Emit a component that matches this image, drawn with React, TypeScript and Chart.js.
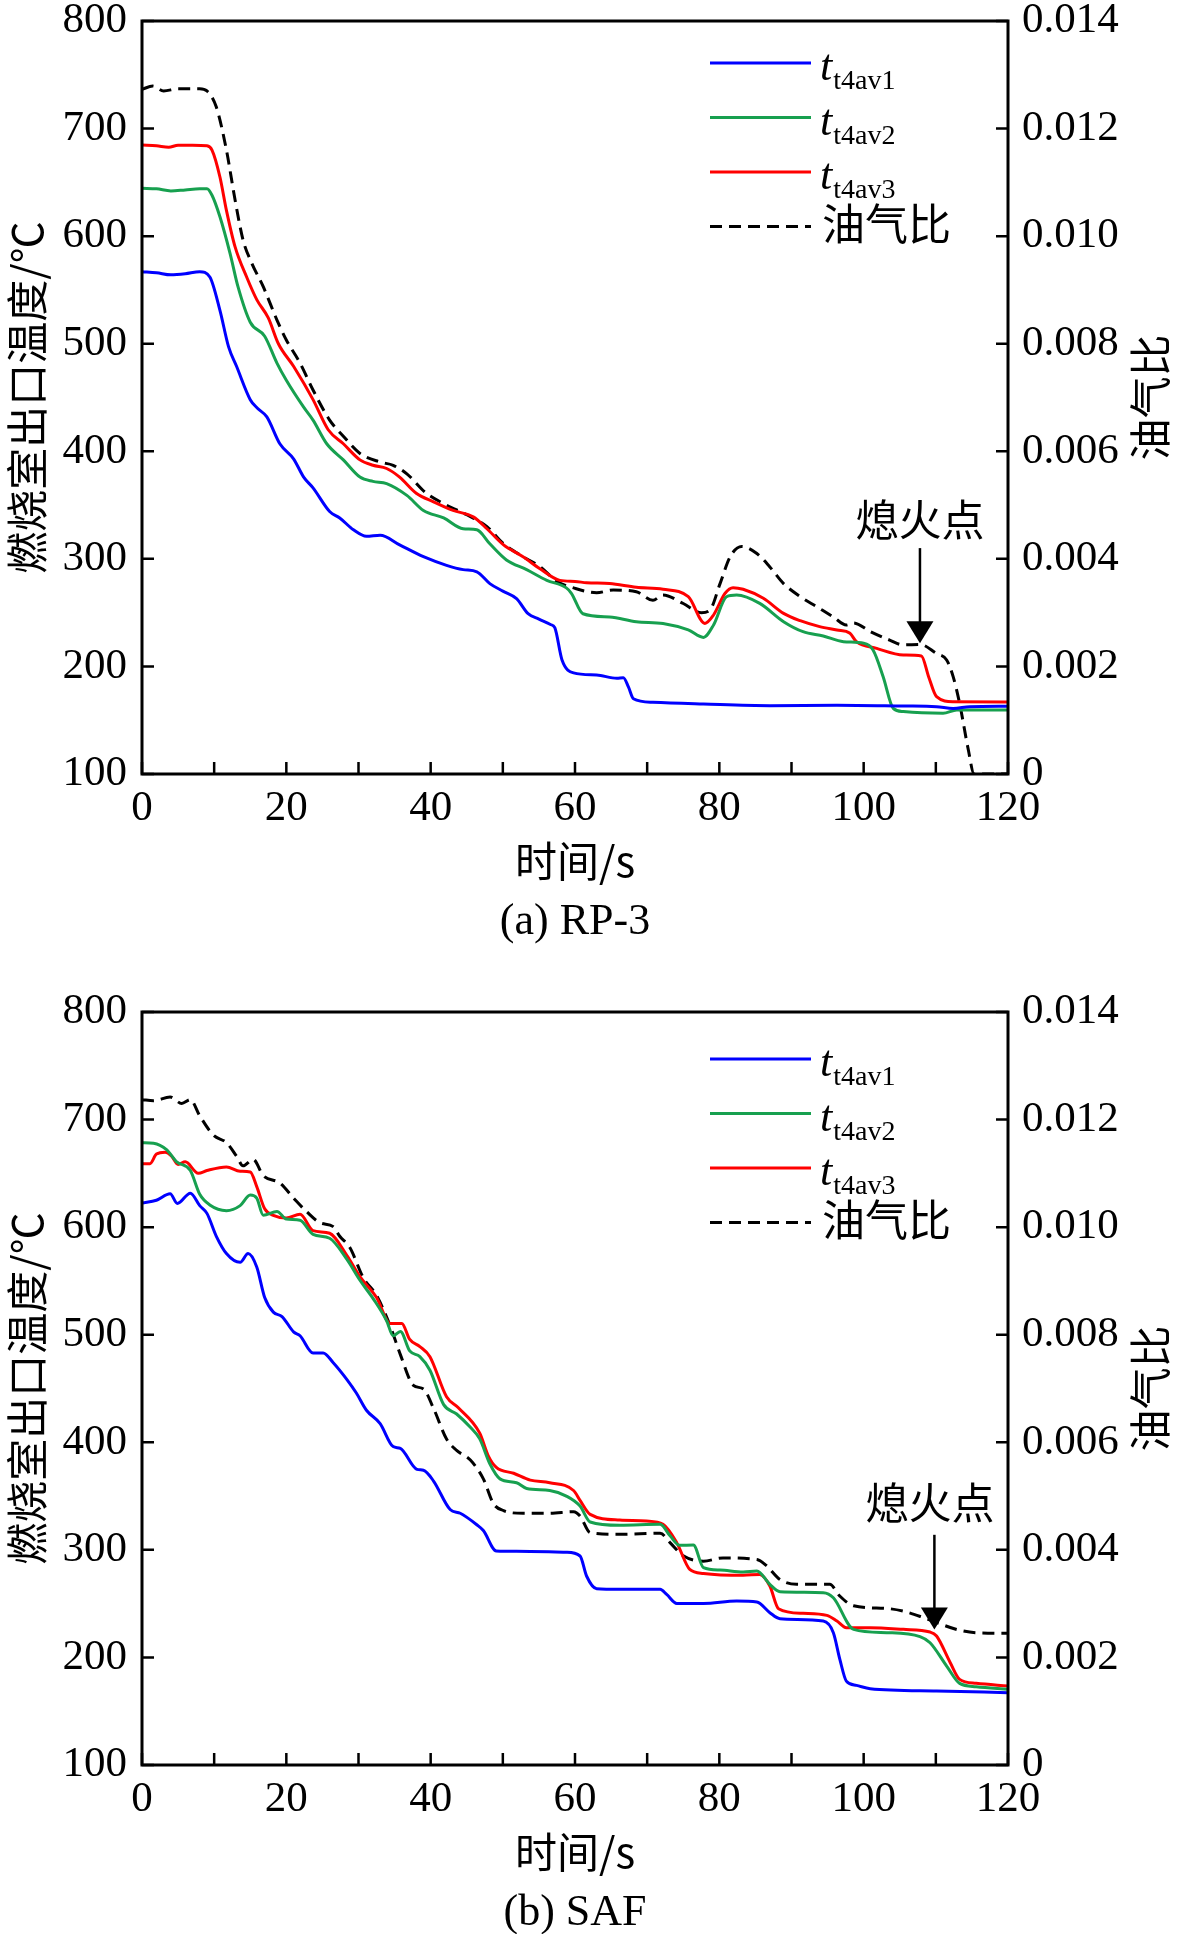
import React, { useEffect, useRef } from "react";
import { Chart, registerables } from "chart.js";
Chart.register(...registerables);

// ---- (a) RP-3 ----
const rp3T1X = [0, 2, 4, 6, 8, 9.4, 10.8, 12, 13.1, 15, 16, 17.3, 19.1, 21, 22.4, 23.7, 26, 27.4, 29.3, 31.1, 33, 35.7, 39, 42.2, 44.5, 46.4, 48.2, 50, 51.9, 53.5, 55, 56.6, 57.2, 58.2, 59.8, 63, 65.8, 66.7, 67.4, 68.1, 70.8, 77.8, 87, 96.3, 105.5, 110.1, 112.4, 114.7, 120];
const rp3T1Y = [567, 566, 564, 565, 567, 562, 531, 497, 479, 448, 440, 432, 407, 393, 376, 366, 344, 338, 327, 321, 322, 313, 302, 294, 290, 288, 277, 270, 263, 249, 244, 239, 236, 206, 194, 192, 189, 189.5, 181, 170, 166.6, 165, 163.5, 164, 163.2, 162.6, 161, 162.6, 163];
const rp3T2X = [0, 2, 4, 6, 8, 9, 9.7, 10.8, 12.2, 13.3, 15, 17, 18.7, 20, 22.4, 23.7, 25.6, 27.9, 30.2, 32, 33.9, 36.7, 39, 41.8, 44.5, 46.4, 48.2, 50.5, 53.3, 56.1, 58.8, 59.5, 61.1, 64.8, 68.5, 72.2, 75.7, 77.8, 79.2, 81, 82.4, 85.6, 88.9, 91.6, 94.4, 97.2, 100, 101.3, 102.7, 104.1, 105.5, 111, 112.9, 120];
const rp3T2Y = [644.5, 644, 642, 643, 644, 644, 638, 618, 584, 553, 520, 507, 482, 466, 441, 429, 407, 392, 376, 372, 370, 359, 345, 338, 328, 327, 314, 299, 290, 280, 273, 268, 249, 246, 241.6, 240, 234, 227, 238.5, 264.8, 266.4, 258.6, 241.6, 232.3, 228.3, 223, 221.5, 215.3, 190.5, 161, 158, 156.4, 159.5, 159.5];
const rp3T3X = [0, 2, 3.7, 5, 7, 9, 9.7, 10.8, 11.7, 12.9, 14.5, 15.9, 17.5, 18.9, 21, 23.7, 25.8, 27.9, 30.2, 32, 33.9, 35.7, 38, 40.4, 43.1, 45.9, 47.8, 50.1, 52.8, 55.1, 57.9, 60, 61.6, 64.8, 68.5, 72.2, 75.7, 78, 79.2, 80.8, 81.9, 83.3, 86.1, 88.9, 91.2, 93.9, 96.3, 98.1, 99, 101.8, 105.5, 108, 109, 110.1, 112.4, 120];
const rp3T3Y = [684.8, 684, 682.6, 684.5, 684.5, 684, 680, 655, 624, 590, 562, 541, 524, 500, 479, 448, 420, 407, 392, 387, 384, 376, 361, 353, 345, 339, 328, 313, 302, 291, 280, 279, 277.8, 277, 273.5, 271.7, 264.8, 240, 247.8, 268, 273.2, 271.7, 263.3, 249.3, 242.5, 237, 233.8, 230.8, 223, 216.8, 210.6, 209.7, 190.5, 171.9, 167.2, 167];
const rp3OfrX = [0, 1.5, 3, 5, 8, 9, 10.3, 11.7, 12.9, 14, 15.2, 16.8, 18.7, 20, 21.9, 23.7, 26, 27.9, 30.2, 33, 34.8, 36.7, 39.4, 42.2, 45, 47.8, 50.1, 52.8, 55.1, 57.5, 59.8, 63, 65.3, 68.5, 70.8, 72.2, 75, 77.5, 78.7, 80.1, 81.5, 83.1, 85.2, 87, 88.9, 91.2, 93.5, 95.8, 97.6, 98.6, 100.9, 103.6, 105.5, 107.8, 110.1, 111.5, 112.4, 113.3, 114.5, 115.3, 120];
const rp3OfrY = [0.01273, 0.01279, 0.0127, 0.01274, 0.01274, 0.0127, 0.0124, 0.0116, 0.01067, 0.00993, 0.0095, 0.00906, 0.00844, 0.00807, 0.00764, 0.00714, 0.00658, 0.00628, 0.00596, 0.0058, 0.00574, 0.00558, 0.00522, 0.005, 0.00482, 0.0046, 0.00428, 0.00404, 0.00386, 0.00358, 0.00346, 0.00337, 0.00342, 0.00339, 0.00323, 0.00333, 0.00317, 0.003, 0.00305, 0.00354, 0.00404, 0.00423, 0.0041, 0.00385, 0.00354, 0.0033, 0.00311, 0.00292, 0.00277, 0.00281, 0.00265, 0.00249, 0.0024, 0.00241, 0.00224, 0.00212, 0.00181, 0.00131, 0.00045, 0, 0];

// ---- (b) SAF ----
const safT1X = [0, 2, 3.9, 4.9, 6.7, 8, 9, 10.3, 11.7, 13.6, 14.7, 15.9, 17, 18.2, 19.4, 21, 21.9, 23.7, 25.1, 26.5, 28.4, 29.7, 31.1, 33, 34.8, 35.8, 38.1, 39, 40.4, 42.7, 44.1, 46.4, 47.3, 49.1, 51.9, 58.8, 60.7, 61.6, 63, 66.2, 71.8, 72.7, 74.1, 77.8, 82.4, 85.2, 87, 88.4, 94.4, 95.8, 96.7, 97.6, 99, 100.9, 110.1, 120];
const safT1Y = [622.4, 625, 631, 622, 631.6, 620, 612.8, 591.5, 575.5, 567.3, 575.5, 563, 534.6, 521, 516.9, 502.7, 499, 483, 483, 474, 458.3, 445.8, 429.8, 417.4, 396, 394.3, 374.8, 374, 364, 337.5, 334, 323.3, 318, 299, 298.6, 297.7, 294.3, 275.7, 263.9, 263.3, 263.3, 258.6, 250.2, 250.2, 252.4, 251.5, 241.6, 236, 233.8, 223, 198.2, 178, 174, 170.9, 168.8, 167.2];
const safT2X = [0, 1.6, 3.4, 4.8, 6.7, 8, 9.4, 11.7, 13.6, 15, 15.9, 16.8, 18.7, 20, 21.9, 23.7, 26, 28.4, 30.2, 32.1, 33.9, 34.8, 35.8, 37.1, 38.5, 39.9, 41.8, 43.6, 45.5, 46.8, 48.2, 49.6, 51.9, 53.3, 56.5, 58.8, 60.7, 62.1, 66.2, 71.8, 73.2, 74.5, 76.4, 77.8, 80.1, 83.3, 85.2, 87, 88.4, 94.4, 95.8, 98.6, 103.2, 107.8, 109.2, 111.5, 113.3, 115.6, 120];
const safT2Y = [678.5, 678, 672, 660.7, 652.6, 630.5, 620.6, 615.3, 620, 629.8, 627, 611, 614.6, 607.5, 606.4, 593.3, 589.7, 570, 550.6, 532.9, 513, 499, 503, 484.9, 479.6, 467, 435, 426.3, 413.9, 403.2, 380, 366, 362.4, 357, 355.2, 350, 340.7, 325.9, 322.8, 323.7, 312.8, 304.2, 304.5, 283.4, 281.2, 279.4, 280.3, 267.9, 261.1, 260.2, 255.5, 226.1, 223, 219.3, 213.7, 192, 175.9, 172.8, 170.3];
const safT3X = [0, 1.1, 2, 3.2, 4.1, 5, 6, 7.8, 9, 11.7, 13.6, 15, 15.9, 17, 18.2, 20, 21.9, 23.7, 26, 28.4, 30.2, 32.5, 34.4, 36, 37.1, 38.5, 39.9, 42.2, 43.8, 46.8, 48, 49.1, 51.5, 53.8, 56.5, 59.8, 60.7, 62.1, 66.2, 69.9, 72.2, 74.1, 75.9, 77.8, 83.3, 85.6, 87, 88.2, 91.6, 94.9, 96.3, 97.6, 100.9, 105.5, 109.2, 110.1, 112, 113.3, 115.6, 120];
const safT3Y = [659, 659, 667.9, 669.6, 666, 658.3, 660.7, 650, 652.6, 656, 651.9, 651.2, 637.7, 617, 611, 608.5, 612, 596.8, 594.3, 573.6, 554, 534.6, 510.5, 510.5, 495.6, 489, 479.6, 442.3, 432.3, 408.5, 387.2, 376.6, 371.2, 364.8, 362.4, 355.2, 346, 333, 327.7, 326.8, 323.7, 306.7, 281.9, 278.1, 276.3, 277.2, 266.4, 245.3, 241, 239.1, 233.8, 227.6, 227.6, 226.1, 223.6, 219.9, 195.1, 179.6, 175.9, 173.4];
const safOfrX = [0, 1.6, 3.9, 5.5, 6.7, 8, 9.9, 11.7, 13.1, 14, 15.4, 16.8, 19.1, 21, 22.8, 24.7, 26.5, 27.4, 28.8, 30.7, 32.5, 34.4, 35.8, 37.6, 39, 40.4, 42.2, 43.6, 45.5, 47.3, 48.7, 50.1, 52.8, 56.5, 59.8, 60.7, 62.1, 66.2, 71.8, 73.2, 75, 77.8, 80.5, 85.2, 86.5, 88.4, 90.7, 95.3, 96.7, 98.6, 103.2, 105.5, 108.3, 110.1, 112.9, 115.6, 120];
const safOfrY = [0.01237, 0.01235, 0.01242, 0.0123, 0.01237, 0.01207, 0.01171, 0.01157, 0.01132, 0.01114, 0.01126, 0.01096, 0.01082, 0.01054, 0.01029, 0.01008, 0.01001, 0.00983, 0.00962, 0.00905, 0.00873, 0.00816, 0.00763, 0.00706, 0.00699, 0.00663, 0.00606, 0.00585, 0.00567, 0.00532, 0.00486, 0.00473, 0.00468, 0.00468, 0.00471, 0.00463, 0.00432, 0.00429, 0.00431, 0.00413, 0.00389, 0.00379, 0.00385, 0.00382, 0.00371, 0.00345, 0.00336, 0.00336, 0.00314, 0.00296, 0.00291, 0.00286, 0.00274, 0.00265, 0.00252, 0.00246, 0.00245];

// legend texts: main symbol + subscript
const seriesMain = ["t", "t", "t", "油气比"];
const seriesSub = ["t4av1", "t4av2", "t4av3", ""];
const seriesColors = ["#0000ff", "#17a04f", "#ff0000", "#000000"];

const xTitle = "时间/s";
const yTitle = "燃烧室出口温度/℃";
const y1Title = "油气比";
const flameoutText = "熄火点";

const SERIF = "'Liberation Serif', 'Times New Roman', 'Noto Sans CJK SC', serif";
const CJK = "'Noto Sans CJK SC', 'Liberation Serif', sans-serif";

type Panel = {
  top: number;
  height: number;
  caption: string;
  legendTop: number;
  arrowX: number;
  arrowFrom: number;
  arrowTo: number;
  textX: number;
  textY: number;
  series: [number[], number[]][];
};

const panels: Panel[] = [
  {
    top: 0, height: 980, caption: "(a) RP-3", legendTop: 42,
    arrowX: 107.8, arrowFrom: 310, arrowTo: 221.5, textX: 107.8, textY: 336,
    series: [[rp3T1X, rp3T1Y], [rp3T2X, rp3T2Y], [rp3T3X, rp3T3Y], [rp3OfrX, rp3OfrY]],
  },
  {
    top: 991, height: 943, caption: "(b) SAF", legendTop: 47,
    arrowX: 109.8, arrowFrom: 314, arrowTo: 226, textX: 109.2, textY: 344,
    series: [[safT1X, safT1Y], [safT2X, safT2Y], [safT3X, safT3Y], [safOfrX, safOfrY]],
  },
];

const pts = (xs: number[], ys: number[]) =>
  xs.slice(0, Math.min(xs.length, ys.length)).map((x, i) => ({ x, y: ys[i] }));

function makeDecor(panel: Panel) {
  return {
    id: "decor",
    afterDatasetsDraw(chart: any) {
      const { ctx, chartArea: a, scales } = chart;
      const xs = scales.x, ys = scales.y, y1 = scales.y1;
      ctx.save();
      // frame
      ctx.strokeStyle = "#000";
      ctx.lineWidth = 3;
      ctx.setLineDash([]);
      ctx.strokeRect(a.left, a.top, a.right - a.left, a.bottom - a.top);
      // inward ticks
      ctx.lineWidth = 2.5;
      const tl = 12;
      ctx.beginPath();
      xs.ticks.forEach((t: any) => {
        const p = xs.getPixelForValue(t.value);
        ctx.moveTo(p, a.bottom);
        ctx.lineTo(p, a.bottom - tl);
      });
      ys.ticks.forEach((t: any) => {
        const p = ys.getPixelForValue(t.value);
        ctx.moveTo(a.left, p);
        ctx.lineTo(a.left + tl, p);
      });
      y1.ticks.forEach((t: any) => {
        const p = y1.getPixelForValue(t.value);
        ctx.moveTo(a.right, p);
        ctx.lineTo(a.right - tl, p);
      });
      ctx.stroke();

      // right axis title, read bottom to top like the left one
      ctx.save();
      ctx.translate(a.right + 142, (a.top + a.bottom) / 2);
      ctx.rotate(-Math.PI / 2);
      ctx.fillStyle = "#000";
      ctx.font = `42px ${CJK}`;
      ctx.textAlign = "center";
      ctx.textBaseline = "middle";
      ctx.fillText(y1Title, 0, 0);
      ctx.restore();

      // legend
      chart.data.datasets.forEach((ds: any, i: number) => {
        const y = a.top + panel.legendTop + i * 54.5;
        ctx.strokeStyle = ds.borderColor;
        ctx.lineWidth = 3;
        ctx.setLineDash(ds.borderDash || []);
        ctx.beginPath();
        ctx.moveTo(a.right - 298, y);
        ctx.lineTo(a.right - 197, y);
        ctx.stroke();
        ctx.setLineDash([]);
        ctx.fillStyle = "#000";
        const tx = a.right - 188;
        if (seriesSub[i]) {
          ctx.textAlign = "left";
          ctx.textBaseline = "alphabetic";
          ctx.font = `italic 44px ${SERIF}`;
          ctx.fillText(seriesMain[i], tx, y + 17);
          const w = ctx.measureText(seriesMain[i]).width;
          ctx.font = `28px ${SERIF}`;
          ctx.fillText(seriesSub[i], tx + w + 1, y + 26);
        } else {
          ctx.textAlign = "left";
          ctx.textBaseline = "middle";
          ctx.font = `43px ${CJK}`;
          ctx.fillText(seriesMain[i], tx + 2, y - 3);
        }
      });

      // flame-out annotation
      const ax = xs.getPixelForValue(panel.arrowX);
      const aFrom = ys.getPixelForValue(panel.arrowFrom);
      const aTo = ys.getPixelForValue(panel.arrowTo);
      ctx.strokeStyle = "#000";
      ctx.fillStyle = "#000";
      ctx.lineWidth = 2.5;
      ctx.beginPath();
      ctx.moveTo(ax, aFrom);
      ctx.lineTo(ax, aTo - 20);
      ctx.stroke();
      ctx.beginPath();
      ctx.moveTo(ax, aTo);
      ctx.lineTo(ax - 13.5, aTo - 22);
      ctx.lineTo(ax + 13.5, aTo - 22);
      ctx.closePath();
      ctx.fill();
      ctx.font = `43px ${CJK}`;
      ctx.textAlign = "center";
      ctx.textBaseline = "middle";
      ctx.fillText(flameoutText, xs.getPixelForValue(panel.textX), ys.getPixelForValue(panel.textY));

      // caption
      ctx.font = `44px ${SERIF}`;
      ctx.fillText(panel.caption, (a.left + a.right) / 2, a.bottom + 148);
      ctx.restore();
    },
  };
}

function PanelChart({ panel }: { panel: Panel }) {
  const canvasRef = useRef<HTMLCanvasElement | null>(null);

  useEffect(() => {
    if (!canvasRef.current) return;
    const tickFont = { family: SERIF, size: 43 };
    const titleFont = { family: CJK, size: 42 };
    const chart = new Chart(canvasRef.current, {
      type: "line",
      data: {
        datasets: panel.series.map(([xs, ys], i) => ({
          label: seriesMain[i] + seriesSub[i],
          data: pts(xs, ys),
          yAxisID: i === 3 ? "y1" : "y",
          borderColor: seriesColors[i],
          borderWidth: 3,
          borderDash: i === 3 ? [12, 7] : [],
          pointRadius: 0,
          fill: false,
          cubicInterpolationMode: "monotone" as const,
        })),
      },
      options: {
        responsive: false,
        animation: false,
        layout: { padding: { top: 21, left: 0, right: 0, bottom: panel.height - 886 } },
        plugins: { legend: { display: false }, tooltip: { enabled: false } },
        scales: {
          x: {
            type: "linear",
            min: 0,
            max: 120,
            grid: { display: false, drawTicks: false },
            border: { display: false },
            ticks: {
              stepSize: 10,
              autoSkip: false,
              maxRotation: 0,
              padding: 9,
              color: "#000",
              font: tickFont,
              callback: (v: any) => (Number(v) % 20 === 0 ? String(v) : ""),
            },
            title: { display: true, text: xTitle, color: "#000", font: titleFont, padding: { top: 0, bottom: 0 } },
            afterFit: (s: any) => {
              s.height = 112;
              s.paddingLeft = 0;
              s.paddingRight = 0;
            },
          },
          y: {
            type: "linear",
            position: "left",
            min: 100,
            max: 800,
            grid: { display: false, drawTicks: false },
            border: { display: false },
            ticks: { stepSize: 100, padding: 15, color: "#000", font: tickFont },
            title: { display: true, text: yTitle, color: "#000", font: titleFont, padding: { top: 2, bottom: 0 } },
            afterFit: (s: any) => {
              s.width = 142;
              s.paddingTop = 0;
              s.paddingBottom = 0;
            },
          },
          y1: {
            type: "linear",
            position: "right",
            min: 0,
            max: 0.014,
            grid: { display: false, drawTicks: false },
            border: { display: false },
            ticks: {
              stepSize: 0.002,
              padding: 14,
              color: "#000",
              font: tickFont,
              callback: (v: any) => (Number(v) === 0 ? "0" : Number(v).toFixed(3)),
            },
            title: { display: false },
            afterFit: (s: any) => {
              s.width = 173;
              s.paddingTop = 0;
              s.paddingBottom = 0;
            },
          },
        },
      },
      plugins: [makeDecor(panel)],
    });
    return () => {
      chart.destroy();
    };
  }, [panel]);

  return (
    <canvas
      ref={canvasRef}
      width={1181}
      height={panel.height}
      style={{ position: "absolute", left: 0, top: panel.top, width: 1181, height: panel.height, display: "block" }}
    />
  );
}

export default function App() {
  return (
    <div style={{ position: "absolute", left: 0, top: 0, width: 1181, height: 1934, background: "#fff" }}>
      {panels.map((p) => (
        <PanelChart key={p.caption} panel={p} />
      ))}
    </div>
  );
}
